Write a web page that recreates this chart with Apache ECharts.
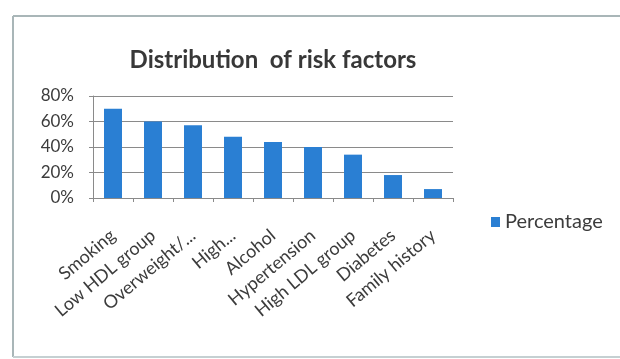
<!DOCTYPE html>
<html>
<head>
<meta charset="utf-8">
<script src="https://cdn.jsdelivr.net/npm/echarts@6/dist/echarts.min.js"></script>
<style>
  html, body { margin: 0; padding: 0; background: #ffffff; }
  #chart { width: 620px; height: 359px; }
</style>
</head>
<body>
<div id="chart"></div>
<script>
// Risk factor categories and their share of patients (%)
const categories = [
  'Smoking', 'Low HDL group', 'Overweight/...', 'High...', 'Alcohol',
  'Hypertension', 'High LDL group', 'Diabetes', 'Family history'
];
const percentages = [70, 60, 57, 48, 44, 40, 34, 18, 7];
const yTicks = [0, 20, 40, 60, 80];

const FONT = 'Lato, "Open Sans", sans-serif';
const TEXT = '#3c3c3c';
const AXIS = '#8a8a8a';
const FRAME = '#a9b6b8';

const chart = echarts.init(document.getElementById('chart'), null, { renderer: 'canvas' });

chart.setOption({
  backgroundColor: '#ffffff',
  animation: false,
  graphic: [
    // outer frame: top, left and bottom edges
    { type: 'line', shape: { x1: 13, y1: 16, x2: 620, y2: 16 }, style: { stroke: FRAME, lineWidth: 2 } },
    { type: 'line', shape: { x1: 13, y1: 16, x2: 13, y2: 357 }, style: { stroke: FRAME, lineWidth: 2 } },
    { type: 'line', shape: { x1: 13, y1: 357, x2: 620, y2: 357 }, style: { stroke: '#c5d0d2', lineWidth: 2 } },
    // chart title
    { type: 'text', x: 273, y: 60, style: {
        text: 'Distribution  of risk factors',
        font: 'bold 24px ' + FONT, fill: '#383838',
        textAlign: 'center', textVerticalAlign: 'middle' } }
  ],
  legend: {
    data: ['Percentage'],
    left: 486, top: 207,
    icon: 'rect', itemWidth: 9, itemHeight: 10, itemGap: 11,
    textStyle: { fontFamily: FONT, fontSize: 20, color: TEXT }
  },
  grid: { left: 93, right: 167, top: 96, bottom: 161 },
  xAxis: {
    type: 'category',
    data: categories,
    axisLine: { lineStyle: { color: AXIS } },
    axisTick: { show: true, alignWithLabel: false, length: 4, lineStyle: { color: AXIS } },
    axisLabel: { rotate: 40, interval: 0, fontFamily: FONT, fontSize: 18, color: TEXT, margin: 35 }
  },
  yAxis: {
    type: 'value',
    min: 0, max: 80, interval: 20,
    axisLine: { show: true, lineStyle: { color: AXIS } },
    axisTick: { show: true, length: 4, lineStyle: { color: AXIS } },
    splitLine: { lineStyle: { color: AXIS } },
    axisLabel: {
      fontFamily: FONT, fontSize: 17, color: TEXT, margin: 19,
      formatter: v => yTicks.includes(v) ? v + '%' : ''
    }
  },
  series: [{
    name: 'Percentage',
    type: 'bar',
    data: percentages,
    barWidth: '45%',
    itemStyle: { color: '#2a7fd3' }
  }]
});
</script>
</body>
</html>
